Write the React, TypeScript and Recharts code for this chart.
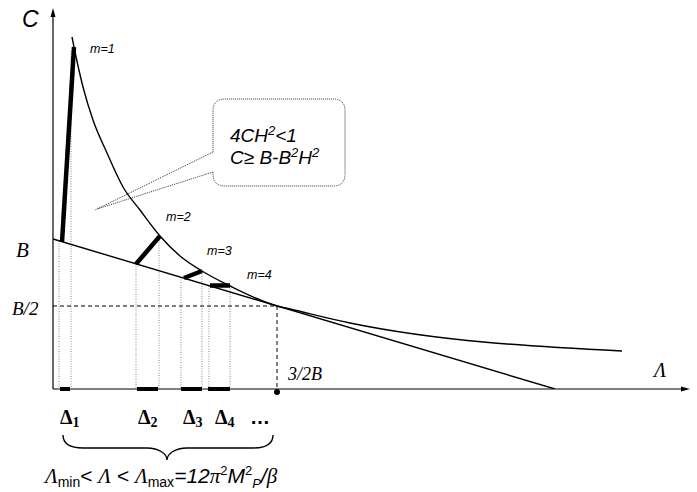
import {
  ComposedChart,
  Line,
  XAxis,
  YAxis,
  ReferenceLine,
  ReferenceDot,
  ReferenceArea,
} from "recharts";

// C(Λ) curve (arbitrary units)
const curvePoints = [
  { x: 19, y: 352 },
  { x: 21, y: 342 },
  { x: 30, y: 302 },
  { x: 40, y: 269 },
  { x: 54, y: 236 },
  { x: 70, y: 202 },
  { x: 87, y: 179 },
  { x: 107, y: 153 },
  { x: 127, y: 133 },
  { x: 149, y: 118 },
  { x: 177, y: 103 },
  { x: 224, y: 83 },
  { x: 237, y: 80 },
  { x: 297, y: 66 },
  { x: 569, y: 38 },
];

// straight line C = B - ...Λ
const tangentLine = [
  { x: 0, y: 150 },
  { x: 502, y: 0 },
];

// thick segments m=1..4 (line -> curve)
const modeSegments = [
  [{ x: 9, y: 147 }, { x: 21, y: 342 }],
  [{ x: 83, y: 125 }, { x: 107, y: 153 }],
  [{ x: 131, y: 111 }, { x: 149, y: 118 }],
  [{ x: 157, y: 103.5 }, { x: 177, y: 103.5 }],
];
const modeLabels = ["m=1", "m=2", "m=3", "m=4"];
const modeLabelPos = [
  { x: 37, y: 336 },
  { x: 113, y: 168 },
  { x: 154, y: 134 },
  { x: 194, y: 110 },
];

// dotted drop lines down to the Λ axis
const dropLines = [
  { x: 6, top: 148 },
  { x: 18, top: 338 },
  { x: 83, top: 125 },
  { x: 106, top: 154 },
  { x: 128, top: 112 },
  { x: 149, top: 118 },
  { x: 156, top: 103 },
  { x: 177, top: 103 },
];

// Δ intervals on the Λ axis
const deltaRanges = [
  [7, 17],
  [84, 105],
  [128, 149],
  [155, 177],
];
const deltaLabelX = [7, 85, 130, 162];

const xMax = 637;
const yMax = 381;
const halfB = 83;
const lambdaHalf = 224;

const sansItalic = {
  fontFamily: "'Liberation Sans', Arial, sans-serif",
  fontStyle: "italic",
};
const serifItalic = {
  fontFamily: "'Liberation Serif', 'Times New Roman', serif",
  fontStyle: "italic",
};
const serifBold = {
  fontFamily: "'Liberation Serif', 'Times New Roman', serif",
  fontWeight: "bold",
};

function textAt(key: string, x: number, y: number, render: (cx: number, cy: number) => any) {
  return (
    <ReferenceDot
      key={key}
      x={x}
      y={y}
      r={1}
      ifOverflow="visible"
      shape={(p: any) => render(p.cx, p.cy)}
    />
  );
}

function calloutShape(p: any) {
  const { x, y, width: w, height: h } = p;
  const r = 12;
  const n1 = y + h * 0.606;
  const n2 = y + h * 0.841;
  const d = `M ${x} ${n2} L ${x} ${y + h - r} Q ${x} ${y + h} ${x + r} ${y + h} L ${x + w - r} ${y + h} Q ${x + w} ${y + h} ${x + w} ${y + h - r} L ${x + w} ${y + r} Q ${x + w} ${y} ${x + w - r} ${y} L ${x + r} ${y} Q ${x} ${y} ${x} ${y + r} L ${x} ${n1}`;
  return <path d={d} fill="none" stroke="#333" strokeWidth={1} strokeDasharray="1 1" />;
}

export default function App() {
  return (
    <div style={{ position: "absolute", left: 0, top: 0, background: "#fff" }}>
      <ComposedChart
        width={697}
        height={492}
        margin={{ top: 8, right: 7, bottom: 103, left: 53 }}
      >
        <XAxis type="number" dataKey="x" domain={[0, xMax]} allowDataOverflow hide />
        <YAxis type="number" domain={[0, yMax]} allowDataOverflow hide />

        {/* axes */}
        <ReferenceLine
          segment={[
            { x: 0, y: 0 },
            { x: 0, y: yMax - 4 },
          ]}
          stroke="#000"
          strokeWidth={1.2}
          ifOverflow="visible"
        />
        <ReferenceLine
          segment={[
            { x: 0, y: 0 },
            { x: xMax - 4, y: 0 },
          ]}
          stroke="#000"
          strokeWidth={1.2}
          ifOverflow="visible"
        />

        {/* dotted drops */}
        {dropLines.map((d, i) => (
          <ReferenceLine
            key={"drop" + i}
            segment={[
              { x: d.x, y: d.top },
              { x: d.x, y: 0 },
            ]}
            stroke="#888"
            strokeWidth={1}
            strokeDasharray="1 1.5"
            ifOverflow="visible"
          />
        ))}

        {/* B/2 dashed guides */}
        <ReferenceLine
          segment={[
            { x: 0, y: halfB },
            { x: lambdaHalf, y: halfB },
          ]}
          stroke="#000"
          strokeDasharray="4 3"
          ifOverflow="visible"
        />
        <ReferenceLine
          segment={[
            { x: lambdaHalf, y: halfB },
            { x: lambdaHalf, y: 0 },
          ]}
          stroke="#000"
          strokeDasharray="4 3"
          ifOverflow="visible"
        />

        {/* callout pointer */}
        <ReferenceLine
          segment={[
            { x: 160, y: 237 },
            { x: 42, y: 179 },
          ]}
          stroke="#333"
          strokeDasharray="1 1"
          ifOverflow="visible"
        />
        <ReferenceLine
          segment={[
            { x: 160, y: 217 },
            { x: 44, y: 180 },
          ]}
          stroke="#333"
          strokeDasharray="1 1"
          ifOverflow="visible"
        />
        <ReferenceArea x1={160} x2={292} y1={203} y2={290} ifOverflow="visible" shape={calloutShape} />

        <Line
          data={curvePoints}
          dataKey="y"
          type="monotone"
          stroke="#000"
          strokeWidth={1.4}
          dot={false}
          isAnimationActive={false}
        />
        <Line
          data={tangentLine}
          dataKey="y"
          type="linear"
          stroke="#000"
          strokeWidth={1.4}
          dot={false}
          isAnimationActive={false}
        />
        {modeSegments.map((seg, i) => (
          <Line
            key={"m" + i}
            data={seg}
            dataKey="y"
            type="linear"
            stroke="#000"
            strokeWidth={4.5}
            dot={false}
            isAnimationActive={false}
          />
        ))}

        {deltaRanges.map((r, i) => (
          <ReferenceLine
            key={"delta" + i}
            segment={[
              { x: r[0], y: 0 },
              { x: r[1], y: 0 },
            ]}
            stroke="#000"
            strokeWidth={4}
            ifOverflow="visible"
          />
        ))}
        <ReferenceDot x={lambdaHalf} y={-3} r={3} fill="#000" stroke="none" ifOverflow="visible" />

        {/* axis arrowheads */}
        {textAt("arrowY", 0, yMax, (cx, cy) => (
          <path d={`M ${cx} ${cy} L ${cx - 2.5} ${cy + 9} L ${cx + 2.5} ${cy + 9} Z`} fill="#000" />
        ))}
        {textAt("arrowX", xMax, 0, (cx, cy) => (
          <path d={`M ${cx} ${cy} L ${cx - 9} ${cy - 2.5} L ${cx - 9} ${cy + 2.5} Z`} fill="#000" />
        ))}

        {/* labels */}
        {textAt("C", -31, 362, (cx, cy) => (
          <text x={cx} y={cy} fontSize={23} style={sansItalic}>
            C
          </text>
        ))}
        {modeLabels.map((m, i) =>
          textAt("ml" + i, modeLabelPos[i].x, modeLabelPos[i].y, (cx, cy) => (
            <text x={cx} y={cy} fontSize={12.5} style={sansItalic}>
              {m}
            </text>
          ))
        )}
        {textAt("B", -37, 132, (cx, cy) => (
          <text x={cx} y={cy} fontSize={21} style={serifItalic}>
            B
          </text>
        ))}
        {textAt("B2", -41, 74, (cx, cy) => (
          <text x={cx} y={cy} fontSize={19} style={serifItalic}>
            B/2
          </text>
        ))}
        {textAt("32B", 235, 9, (cx, cy) => (
          <text x={cx} y={cy} fontSize={18} style={serifItalic}>
            3/2B
          </text>
        ))}
        {textAt("L", 601, 12, (cx, cy) => (
          <text x={cx} y={cy} fontSize={20} style={serifItalic}>
            Λ
          </text>
        ))}
        {textAt("box1", 177, 247, (cx, cy) => (
          <text x={cx} y={cy} fontSize={19} style={sansItalic}>
            4CH
            <tspan fontSize={13} dy={-7}>2</tspan>
            <tspan dy={7}>&lt;1</tspan>
          </text>
        ))}
        {textAt("box2", 177, 225, (cx, cy) => (
          <text x={cx} y={cy} fontSize={19} style={sansItalic}>
            C≥ B-B
            <tspan fontSize={13} dy={-7}>2</tspan>
            <tspan dy={7}>H</tspan>
            <tspan fontSize={13} dy={-7}>2</tspan>
          </text>
        ))}
        {deltaLabelX.map((lx, i) =>
          textAt("dl" + i, lx, -35, (cx, cy) => (
            <text x={cx} y={cy} fontSize={20} style={serifBold}>
              Δ<tspan fontSize={14} dy={3}>{i + 1}</tspan>
            </text>
          ))
        )}
        {textAt("dots", 197, -35, (cx, cy) => (
          <text x={cx} y={cy} fontSize={20} fontWeight="bold" fontFamily="'Liberation Sans', Arial, sans-serif">
            …
          </text>
        ))}
        {textAt("brace", 114, -71, (cx, cy) => {
          const L = -104;
          const R = 106;
          const d = `M ${cx + L} ${cy - 25} C ${cx + L} ${cy - 15} ${cx + L + 8} ${cy - 12} ${cx + L + 20} ${cy - 12} L ${cx - 20} ${cy - 12} C ${cx - 8} ${cy - 12} ${cx} ${cy - 6} ${cx} ${cy} C ${cx} ${cy - 6} ${cx + 8} ${cy - 12} ${cx + 20} ${cy - 12} L ${cx + R - 20} ${cy - 12} C ${cx + R - 8} ${cy - 12} ${cx + R} ${cy - 15} ${cx + R} ${cy - 25}`;
          return <path d={d} fill="none" stroke="#000" strokeWidth={1.4} />;
        })}
        {textAt("formula", -8, -94, (cx, cy) => (
          <text x={cx} y={cy} fontSize={21} fontFamily="'Liberation Sans', Arial, sans-serif">
            <tspan style={serifItalic}>Λ</tspan>
            <tspan fontSize={14} dy={4}>min</tspan>
            <tspan dy={-4}>{"< "}</tspan>
            <tspan style={serifItalic}>Λ</tspan>
            <tspan>{" < "}</tspan>
            <tspan style={serifItalic}>Λ</tspan>
            <tspan fontSize={14} dy={4}>max</tspan>
            <tspan dy={-4} fontStyle="italic">=12</tspan>
            <tspan style={serifItalic}>π</tspan>
            <tspan fontSize={13} dy={-8}>2</tspan>
            <tspan dy={8} fontStyle="italic">M</tspan>
            <tspan fontSize={13} dy={-8}>2</tspan>
            <tspan fontSize={13} dy={13} fontStyle="italic">P</tspan>
            <tspan dy={-5} fontStyle="italic">/</tspan>
            <tspan style={serifItalic}>β</tspan>
          </text>
        ))}
      </ComposedChart>
    </div>
  );
}
